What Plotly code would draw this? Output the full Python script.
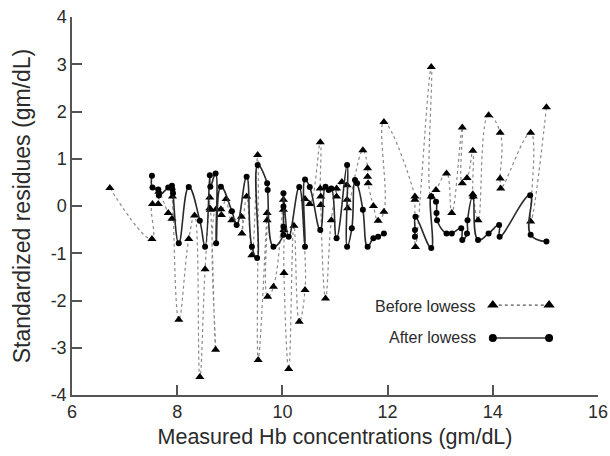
import plotly.graph_objects as go

# Before lowess: measured Hb (gm/dL) and standardized residue
hb_before = [6.72, 7.52, 7.53, 7.64, 7.65, 7.83, 7.90, 7.91, 8.03, 8.22,
             8.33, 8.43, 8.53, 8.62, 8.62, 8.63, 8.73, 8.74, 8.83, 8.84,
             8.93, 9.04, 9.22, 9.23, 9.32, 9.42, 9.53, 9.54, 9.71, 9.71,
             9.72, 9.83, 10.02, 10.02, 10.03, 10.03, 10.12, 10.22, 10.32, 10.43,
             10.43, 10.52, 10.72, 10.72, 10.73, 10.73, 10.82, 10.93, 11.03, 11.03,
             11.13, 11.23, 11.23, 11.24, 11.53, 11.62, 11.62, 11.63, 11.73, 11.82,
             11.93, 11.93, 12.52, 12.52, 12.53, 12.83, 12.83, 12.92, 13.12, 13.22,
             13.42, 13.42, 13.51, 13.62, 13.62, 13.63, 13.72, 13.92, 14.14, 14.14,
             14.15, 14.72, 14.72, 15.02]
res_before = [0.38, -0.70, 0.04, 0.04, 0.30, -0.15, -0.27, 0.20, -2.41, -0.70,
              -0.20, -3.62, -1.34, 0.18, -0.05, -0.08, -3.04, -0.07, -0.07, -0.19,
              0.15, -0.30, -0.23, -0.58, 0.20, -1.04, 1.08, -3.26, -0.15, -0.30,
              -1.92, -1.71, 0.13, -0.08, -0.51, -1.42, -3.45, -0.42, -2.45, -1.78,
              0.15, 0.04, 1.35, 0.37, 0.20, 0.02, -1.96, -0.30, 0.37, 0.20,
              0.51, 0.44, 0.13, -0.05, 1.18, 0.80, 0.62, 0.48, 0.00, -0.31,
              -0.12, 1.78, 0.20, 0.13, -0.87, 2.94, 0.20, 0.34, 0.69, -0.15,
              1.66, 0.48, 0.59, 1.17, 0.25, 0.20, -0.30, 1.92, 1.55, 0.58,
              0.37, 1.55, -0.33, 2.09]

# After lowess (None = break in the line)
hb_after = [7.52, 7.53, 7.64, 7.65, 7.83, 7.90, 7.91, 7.92, 8.03, 8.22,
            8.43, 8.53, 8.62, 8.63, 8.73, 8.74, 8.83, 9.04, 9.13, 9.32,
            9.42, 9.52, 9.53, 9.71, 9.72, 9.83, 10.02, 10.02, 10.02, 10.02,
            10.12, 10.32, 10.43, 10.43, 10.52, 10.72, 10.82, 10.88, 10.93, 11.03,
            11.23, 11.23, 11.32, 11.38, 11.42, 11.53, 11.62, 11.73, 11.82, 11.93,
            None, 12.52, 12.52, 12.53, 12.83, 12.83, 12.92, 12.93, 12.94, 13.12,
            13.22, 13.40, 13.42, 13.51, 13.52, 13.62, 13.72, 13.92, 14.12, 14.13,
            14.71, 14.72, 15.02]
res_after = [0.64, 0.39, 0.35, 0.22, 0.39, 0.43, 0.35, 0.27, -0.79, 0.40,
             -0.31, -0.86, 0.65, 0.41, 0.69, -0.79, 0.41, -0.11, -0.40, 0.62,
             -0.86, -1.10, 0.87, 0.48, 0.34, -0.86, -0.61, -0.44, -0.01, 0.27,
             -0.65, 0.40, -0.86, 0.56, 0.40, -0.51, 0.41, 0.34, 0.37, -0.68,
             0.87, -0.86, -0.47, 0.55, 0.48, -0.08, -0.86, -0.68, -0.65, -0.58,
             None, -0.65, -0.51, -0.23, -0.89, 0.20, 0.09, -0.15, -0.30, -0.58,
             -0.58, -0.47, -0.72, -0.58, -0.30, 0.20, -0.72, -0.58, -0.40, -0.65,
             0.23, -0.61, -0.75]

series_names = ["Before lowess", "After lowess"]
x_ticks = [6, 8, 10, 12, 14, 16]
y_ticks = [-4, -3, -2, -1, 0, 1, 2, 3, 4]

font = "Liberation Sans, Arial, sans-serif"
txt = "#2b2b2b"

fig = go.Figure()

fig.add_trace(go.Scatter(
    x=hb_before, y=res_before, mode="lines+markers", name=series_names[0],
    line=dict(color="#8a8a8a", width=1.2, dash="dot", shape="spline", smoothing=1.3),
    marker=dict(symbol="triangle-up", size=8, color="black"),
    showlegend=False, cliponaxis=False))

fig.add_trace(go.Scatter(
    x=hb_after, y=res_after, mode="lines+markers", name=series_names[1],
    line=dict(color="#2a2a2a", width=1.6, shape="spline", smoothing=1.3),
    marker=dict(symbol="circle", size=6, color="black"),
    connectgaps=False, showlegend=False, cliponaxis=False))

# hand-made legend: label on the left, sample line with a marker at each end
fig.add_trace(go.Scatter(
    x=[0.80, 0.907], y=[0.238, 0.238], xaxis="x2", yaxis="y2", mode="lines+markers",
    line=dict(color="#555555", width=1.2, dash="dot"),
    marker=dict(symbol="triangle-up", size=10, color="black"),
    showlegend=False, hoverinfo="skip"))
fig.add_trace(go.Scatter(
    x=[0.80, 0.907], y=[0.151, 0.151], xaxis="x2", yaxis="y2", mode="lines+markers",
    line=dict(color="#333333", width=1.5),
    marker=dict(symbol="circle", size=8, color="black"),
    showlegend=False, hoverinfo="skip"))

for name, yy in zip(series_names, [0.233, 0.151]):
    fig.add_annotation(x=0.772, y=yy, xref="paper", yref="paper", text=name,
                       showarrow=False, xanchor="right", yanchor="middle",
                       font=dict(size=16, color=txt, family=font))

axis_common = dict(showline=True, linecolor="#555555", linewidth=1.5,
                   ticks="inside", ticklen=10, tickcolor="#555555", tickwidth=1.5,
                   showgrid=False, zeroline=False, automargin=False,
                   tickfont=dict(size=18, color=txt, family=font))

fig.update_layout(
    width=610, height=456,
    margin=dict(l=72, r=12, t=17, b=61),
    paper_bgcolor="white", plot_bgcolor="white",
    font=dict(family=font, color=txt),
    xaxis=dict(range=[6, 16], tickvals=x_ticks, ticktext=[str(v) for v in x_ticks],
               title=dict(text="Measured Hb concentrations (gm/dL)",
                          font=dict(size=21.5, color=txt, family=font), standoff=8),
               **axis_common),
    yaxis=dict(range=[-4, 4], tickvals=y_ticks, ticktext=[str(v) for v in y_ticks],
               title=dict(text="Standardized residues (gm/dL)",
                          font=dict(size=23, color=txt, family=font), standoff=14),
               **axis_common),
    xaxis2=dict(range=[0, 1], overlaying="x", visible=False),
    yaxis2=dict(range=[0, 1], overlaying="y", visible=False),
)

# the page has a default body margin; drop it so the figure sits at 0,0
fig.write_html("out.html", config={"displayModeBar": False},
               post_script="document.body.style.margin='0';")
